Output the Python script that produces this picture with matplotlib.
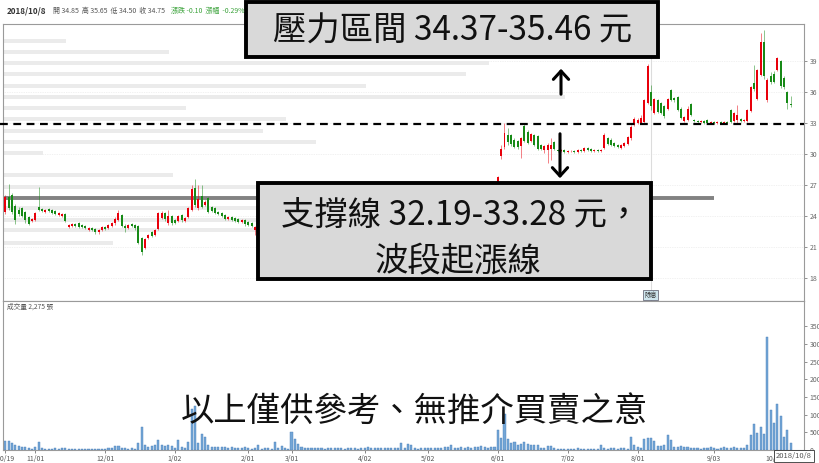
import numpy as np
import matplotlib
matplotlib.use("Agg")
import matplotlib.pyplot as plt
from matplotlib.patches import Rectangle

plt.rcParams['font.family'] = ['Noto Sans CJK TC', 'DejaVu Sans']

# ---- daily candles 2017/10/19 ~ 2018/10/8 (one entry per trading day) ----
OPEN = [
    24.4, 25.8, 26.0, 25.0, 24.6, 24.8, 24.4, 23.9, 23.5, 23.6,
    24.9, 24.7, 24.4, 24.7, 24.6, 24.5, 24.1, 24.0, 24.2, 22.9,
    23.0, 23.2, 23.3, 23.1, 23.0, 22.6, 22.8, 22.7, 22.4, 22.6,
    22.9, 22.8, 23.0, 23.3, 23.6, 24.1, 23.0, 22.8, 23.2, 23.1,
    23.0, 21.9, 20.9, 21.9, 22.4, 22.2, 22.7, 23.8, 24.3, 23.3,
    24.0, 23.6, 23.5, 24.1, 23.5, 23.9, 24.6, 26.7, 24.8, 25.9,
    25.1, 25.7, 24.9, 24.8, 24.4, 24.3, 24.1, 23.7, 23.9, 23.8,
    23.7, 23.4, 23.6, 23.4, 23.3, 22.6, 22.3, 22.5, 22.6, 22.9,
    23.2, 22.8, 22.5, 22.9, 23.4, 23.1, 23.6, 24.0, 23.7, 24.2,
    24.5, 24.1, 23.8, 24.3, 24.6, 24.4, 24.0, 23.7, 23.9, 24.3,
    24.8, 25.1, 24.7, 24.5, 24.9, 25.3, 25.0, 24.6, 24.8, 25.2,
    25.5, 25.1, 24.9, 25.3, 25.6, 25.4, 25.0, 24.8, 25.1, 25.4,
    25.2, 24.9, 25.2, 25.5, 25.8, 25.5, 25.3, 25.0, 25.3, 25.6,
    25.9, 25.6, 25.4, 25.7, 26.0, 25.8, 25.5, 25.3, 25.6, 25.9,
    26.2, 25.9, 25.7, 26.0, 26.3, 26.1, 25.9, 26.2, 26.6, 29.8,
    30.7, 31.8, 31.8, 31.4, 31.3, 30.8, 32.7, 32.1, 31.3, 31.8,
    31.7, 30.9, 30.4, 30.4, 30.5, 31.2, 30.4, 30.3, 30.4, 30.2,
    30.25, 30.3, 30.2, 30.4, 30.3, 30.6, 30.5, 30.3, 30.4, 30.3,
    30.6, 31.5, 31.4, 31.1, 30.9, 30.6, 30.8, 31.0, 31.5, 32.8,
    33.0, 33.0, 33.1, 34.9, 36.0, 34.0, 35.2, 34.9, 34.6, 34.4,
    36.2, 35.4, 35.5, 34.4, 33.2, 33.3, 34.8, 33.3, 33.2, 33.1,
    33.2, 33.3, 33.0, 33.1, 33.0, 33.1, 33.0, 33.1, 34.3, 33.2,
    33.3, 33.4, 33.2, 33.2, 34.2, 36.9, 35.3, 37.6, 40.8, 35.2,
    37.5, 37.7, 38.1, 39.0, 37.4, 36.0, 34.85,
]
CLOSE = [
    25.8, 24.8, 24.4, 23.6, 24.2, 24.0, 23.6, 23.2, 23.7, 24.3,
    24.6, 24.5, 24.6, 24.5, 24.3, 24.2, 24.3, 24.2, 23.5, 23.1,
    23.2, 23.0, 22.9, 22.9, 22.8, 22.8, 22.6, 22.4, 22.6, 22.9,
    22.7, 23.1, 23.3, 23.7, 24.3, 23.0, 22.8, 23.1, 23.0, 22.8,
    21.4, 20.5, 21.8, 22.2, 22.1, 22.6, 24.3, 24.3, 23.7, 24.0,
    23.3, 23.3, 24.0, 23.6, 23.8, 24.8, 26.6, 25.1, 25.6, 24.9,
    25.4, 24.4, 24.5, 24.3, 24.2, 24.0, 23.7, 23.9, 23.6, 23.5,
    23.4, 23.6, 23.2, 23.1, 23.0, 22.9, 22.5, 22.6, 22.9, 23.2,
    22.8, 22.5, 22.9, 23.4, 23.1, 23.6, 24.0, 23.7, 24.2, 24.5,
    24.1, 23.8, 24.3, 24.6, 24.4, 24.0, 23.7, 23.9, 24.3, 24.8,
    25.1, 24.7, 24.5, 24.9, 25.3, 25.0, 24.6, 24.8, 25.2, 25.5,
    25.1, 24.9, 25.3, 25.6, 25.4, 25.0, 24.8, 25.1, 25.4, 25.2,
    24.9, 25.2, 25.5, 25.8, 25.5, 25.3, 25.0, 25.3, 25.6, 25.9,
    25.6, 25.4, 25.7, 26.0, 25.8, 25.5, 25.3, 25.6, 25.9, 26.2,
    25.9, 25.7, 26.0, 26.3, 26.1, 25.9, 26.2, 26.5, 27.8, 30.5,
    32.0, 31.2, 31.0, 30.7, 30.7, 31.5, 31.3, 31.1, 31.9, 30.9,
    30.5, 30.5, 30.8, 30.9, 30.9, 30.5, 30.3, 30.4, 30.2, 30.3,
    30.3, 30.2, 30.4, 30.3, 30.6, 30.4, 30.3, 30.4, 30.3, 30.4,
    31.8, 31.0, 30.9, 30.8, 30.7, 30.9, 31.1, 31.6, 32.6, 33.4,
    33.3, 33.5, 35.2, 38.5, 34.6, 35.3, 34.1, 34.0, 33.7, 35.3,
    35.2, 35.2, 34.3, 33.5, 33.6, 34.4, 33.8, 33.2, 33.1, 33.2,
    33.0, 33.0, 33.1, 33.0, 33.1, 33.0, 33.1, 33.0, 33.1, 34.0,
    33.8, 33.2, 33.3, 34.3, 36.5, 36.3, 38.1, 40.8, 37.5, 37.2,
    37.0, 37.0, 39.3, 36.6, 36.5, 34.9, 34.75,
]
HIGH = [
    26.0, 27.1, 26.2, 25.2, 24.9, 24.9, 24.5, 24.0, 23.8, 24.4,
    26.8, 24.8, 24.7, 24.8, 24.7, 24.6, 24.4, 24.3, 24.3, 23.2,
    23.3, 23.3, 23.4, 23.2, 23.1, 22.9, 22.9, 22.8, 22.7, 23.0,
    23.0, 23.2, 23.4, 23.9, 24.6, 24.2, 23.2, 23.2, 23.3, 23.2,
    23.1, 22.0, 21.9, 22.3, 22.5, 22.7, 24.4, 24.5, 24.4, 24.6,
    24.1, 23.7, 24.1, 24.2, 23.9, 24.9, 27.0, 27.6, 27.0, 27.0,
    25.5, 25.8, 25.0, 24.9, 24.5, 24.4, 24.2, 24.0, 24.0, 23.9,
    23.8, 23.7, 23.7, 23.5, 23.4, 23.0, 22.7, 22.8, 23.1, 23.4,
    23.4, 23.0, 23.1, 23.6, 23.6, 23.8, 24.2, 24.2, 24.4, 24.7,
    24.7, 24.3, 24.5, 24.8, 24.8, 24.6, 24.2, 24.1, 24.5, 25.0,
    25.3, 25.3, 24.9, 25.1, 25.5, 25.5, 25.2, 25.0, 25.4, 25.7,
    25.7, 25.3, 25.5, 25.8, 25.8, 25.6, 25.2, 25.3, 25.6, 25.6,
    25.4, 25.4, 25.7, 26.0, 26.0, 25.7, 25.5, 25.5, 25.8, 26.1,
    26.1, 25.8, 25.9, 26.2, 26.2, 26.0, 25.7, 25.8, 26.1, 26.4,
    26.4, 26.1, 26.2, 26.5, 26.5, 26.3, 26.4, 26.7, 27.9, 30.9,
    33.0, 32.5, 31.9, 31.5, 31.4, 31.6, 33.0, 32.3, 32.0, 31.9,
    31.8, 31.0, 30.9, 31.1, 31.5, 31.3, 30.5, 30.5, 30.5, 30.4,
    30.4, 30.4, 30.5, 30.5, 30.7, 30.7, 30.6, 30.5, 30.5, 30.5,
    32.0, 31.6, 31.5, 31.2, 31.0, 31.0, 31.2, 31.7, 32.8, 33.6,
    33.5, 33.8, 35.3, 38.7, 36.7, 35.4, 35.3, 35.0, 34.7, 35.4,
    36.3, 35.5, 35.6, 34.5, 33.7, 34.6, 34.9, 33.4, 33.3, 33.3,
    33.3, 33.4, 33.2, 33.2, 33.2, 33.2, 33.2, 33.2, 34.4, 34.1,
    34.7, 33.5, 33.4, 34.4, 36.6, 38.6, 38.2, 41.7, 42.0, 37.4,
    37.9, 38.0, 39.4, 39.1, 37.5, 36.1, 35.65,
]
LOW = [
    24.2, 24.6, 24.2, 23.2, 24.0, 23.9, 23.3, 23.1, 23.4, 23.5,
    24.5, 24.4, 24.3, 24.4, 24.2, 24.1, 24.0, 23.9, 23.4, 22.8,
    22.9, 22.9, 22.8, 22.8, 22.7, 22.5, 22.5, 22.3, 22.3, 22.5,
    22.6, 22.7, 22.9, 23.1, 23.5, 22.9, 22.4, 22.7, 22.9, 22.6,
    21.3, 20.2, 20.8, 21.8, 22.0, 22.1, 22.6, 23.7, 23.5, 23.1,
    23.1, 23.2, 23.4, 23.4, 23.4, 23.8, 24.5, 24.9, 24.6, 24.8,
    25.0, 24.3, 24.4, 24.2, 24.1, 23.9, 23.6, 23.6, 23.5, 23.4,
    23.3, 23.3, 23.0, 23.0, 22.9, 22.2, 22.2, 22.3, 22.4, 22.7,
    22.6, 22.3, 22.3, 22.7, 22.9, 22.9, 23.4, 23.5, 23.5, 24.0,
    23.9, 23.6, 23.6, 24.1, 24.2, 23.8, 23.5, 23.5, 23.7, 24.1,
    24.6, 24.5, 24.3, 24.3, 24.7, 24.8, 24.4, 24.4, 24.6, 25.0,
    24.9, 24.7, 24.7, 25.1, 25.2, 24.8, 24.6, 24.6, 24.9, 25.0,
    24.7, 24.7, 25.0, 25.3, 25.3, 25.1, 24.8, 24.8, 25.1, 25.4,
    25.4, 25.2, 25.2, 25.5, 25.6, 25.3, 25.1, 25.1, 25.4, 25.7,
    25.7, 25.5, 25.5, 25.8, 25.9, 25.7, 25.7, 26.0, 26.5, 29.5,
    30.5, 30.9, 30.8, 30.6, 30.5, 29.6, 31.2, 31.0, 31.2, 30.8,
    30.4, 30.4, 30.1, 29.1, 29.4, 30.4, 30.2, 30.2, 30.1, 30.1,
    30.2, 30.1, 30.1, 30.2, 30.2, 30.3, 30.2, 30.2, 30.2, 30.2,
    30.5, 30.9, 30.8, 30.7, 30.6, 30.5, 30.7, 30.9, 31.4, 32.7,
    32.9, 32.9, 33.0, 34.8, 34.3, 33.9, 34.0, 33.9, 33.5, 34.3,
    35.1, 35.0, 34.2, 33.4, 33.1, 33.2, 33.7, 33.1, 33.0, 33.0,
    32.9, 32.9, 32.9, 32.9, 32.9, 32.9, 32.9, 32.9, 33.0, 33.1,
    33.0, 33.1, 33.1, 33.1, 34.1, 36.1, 35.2, 37.5, 37.3, 35.0,
    36.8, 36.9, 38.0, 36.4, 36.3, 34.4, 34.50,
]
VOLUME = [
    250, 250, 190, 150, 100, 80, 80, 50, 40, 80,
    230, 50, 40, 40, 40, 50, 40, 50, 60, 40,
    40, 30, 30, 40, 30, 30, 30, 40, 30, 40,
    40, 60, 60, 100, 110, 60, 60, 40, 60, 40,
    200, 650, 130, 90, 100, 130, 280, 130, 100, 130,
    110, 60, 270, 80, 60, 230, 1150, 1250, 200, 460,
    380, 140, 90, 80, 80, 80, 80, 70, 90, 70,
    60, 60, 80, 50, 40, 60, 130, 40, 60, 60,
    40, 240, 70, 110, 60, 40, 510, 310, 180, 90,
    70, 70, 60, 60, 50, 60, 40, 60, 70, 50,
    50, 60, 40, 50, 60, 70, 40, 60, 70, 80,
    60, 70, 60, 50, 60, 50, 70, 60, 60, 200,
    60, 170, 140, 50, 40, 50, 60, 50, 60, 50,
    60, 60, 80, 80, 130, 60, 70, 90, 60, 80,
    70, 90, 80, 100, 80, 70, 90, 80,
    560, 330, 1020, 320, 200, 220, 150, 170, 230, 160,
    150, 140, 150, 60, 50, 100, 110, 50, 40, 40,
    30, 40, 30, 40, 50, 30, 40, 40, 30, 40,
    40, 130, 50, 40, 60, 50, 40, 50, 60, 40,
    370, 140, 80, 50, 320, 330, 340, 250, 100, 100,
    130, 410, 290, 90, 80, 100, 90, 80, 60, 50,
    50, 40, 50, 60, 80, 50, 40, 60, 90, 70,
    60, 90, 50, 60, 60, 130, 430, 730, 480, 660,
    460, 3190, 1130, 750, 1300, 960, 380, 570, 210,
]

# volume-by-price bars (price level, length in trading days)
VP_LEVELS = [40.94, 39.87, 38.81, 37.74, 36.58, 35.52, 34.45, 33.39, 32.23,
             31.16, 30.10, 27.97, 26.81, 25.74, 24.77, 23.61, 22.65, 21.39]
VP_LENGTHS = [19, 50, 146, 139, 109, 169, 55, 85, 78,
              94, 12, 51, 130, 200, 160, 120, 90, 33]

PRICE_TICKS = [18, 21, 24, 27, 30, 33, 36, 39]
VOL_TICKS = [0, 500, 1000, 1500, 2000, 2500, 3000, 3500]
DATE_POS = [0, 9, 30, 51, 73, 86, 108, 127, 148, 169, 190, 213, 231]
DATE_LBL = ["10/19\n2017", "11/01", "12/01", "1/02\n2018", "2/01", "3/01", "4/02",
            "5/02", "6/01", "7/02", "8/01", "9/03", "10/01"]

SUPPORT_LINE = 32.9      # 支撐線 (dashed)
COST_LINE = 25.74        # thick grey line
COST_LINE_END = 213
EXDIV_DAY = 194

UP, DOWN = "#e8000b", "#178a17"

W, H = 820, 463


def frac(x0, y0, x1, y1):
    return [x0 / W, 1 - y1 / H, (x1 - x0) / W, (y1 - y0) / H]


fig = plt.figure(figsize=(8.2, 4.63), dpi=100)
ax = fig.add_axes(frac(3, 24, 804, 301))
axv = fig.add_axes(frac(3, 301, 804, 450))

idx = np.arange(len(CLOSE))
o, c = np.array(OPEN), np.array(CLOSE)
hi, lo = np.array(HIGH), np.array(LOW)
up = c >= o
cols = np.where(up, UP, DOWN)

# ---- price panel ----
ax.set_xlim(-0.7, 240.0)
ax.set_ylim(15.77, 42.58)
for p in PRICE_TICKS:
    ax.axhline(p, color="#e4e4e4", lw=0.5, ls=(0, (1, 1.5)), zorder=0)
ax.barh(VP_LEVELS, VP_LENGTHS, height=0.4, left=-0.7, color="#ebebeb", zorder=1)
ax.axvline(EXDIV_DAY, color="#dcdcdc", lw=0.8, zorder=1)
ax.plot([-0.7, COST_LINE_END], [COST_LINE, COST_LINE], color="#828282", lw=2.8,
        solid_capstyle="butt", zorder=2)

ax.vlines(idx, np.minimum(lo, np.minimum(o, c)), np.maximum(hi, np.maximum(o, c)),
          colors=cols, lw=0.7, alpha=0.5, zorder=3)
body_h = np.maximum(np.abs(c - o), 0.06)
ax.bar(idx, body_h, bottom=np.minimum(o, c), width=0.6, color=cols, lw=0, zorder=4)

ax.axhline(SUPPORT_LINE, xmin=-0.004, color="black", lw=1.6, dashes=(3.5, 2.5),
           zorder=5, clip_on=False)

ax.yaxis.tick_right()
ax.set_yticks(PRICE_TICKS)
ax.set_xticks([])
ax.tick_params(axis="y", labelsize=5, colors="#666", length=2.5, width=0.5, pad=1.5)
for s in ax.spines.values():
    s.set_color("#9a9a9a")
    s.set_linewidth(0.8)

# ---- volume panel ----
axv.set_xlim(-0.7, 240.0)
axv.set_ylim(0, 4210)
axv.bar(idx, VOLUME, width=0.62, color="#74a6d6", edgecolor="#4a80bb", lw=0.3)
axv.yaxis.tick_right()
axv.set_yticks(VOL_TICKS)
axv.set_xticks(DATE_POS)
axv.set_xticklabels(DATE_LBL, linespacing=1.3)
axv.tick_params(axis="y", labelsize=5, colors="#666", length=2.5, width=0.5, pad=1.5)
axv.tick_params(axis="x", labelsize=5, colors="#555", length=2, width=0.5, pad=1.5)
for s in axv.spines.values():
    s.set_color("#9a9a9a")
    s.set_linewidth(0.8)

# ---- overlay (pixel coordinates) ----
ov = fig.add_axes([0, 0, 1, 1], zorder=10)
ov.set_xlim(0, W)
ov.set_ylim(H, 0)
ov.axis("off")
ov.patch.set_alpha(0)

ov.text(7, 11, "2018/10/8", fontsize=5.8, fontweight="bold", color="#333", va="center")
ov.text(53, 11, "開 34.85  高 35.65  低 34.50  收 34.75", fontsize=5, color="#555", va="center")
ov.text(171, 11, "漲跌 -0.10  漲幅  -0.29%", fontsize=5, color="#3ca33c", va="center")
ov.text(7, 307, "成交量 2,275 張", fontsize=4.8, color="#555", va="center")

ov.text(651, 295, "除息", fontsize=4.5, color="#333", ha="center", va="center",
        bbox=dict(boxstyle="square,pad=0.2", fc="#cfe6ee", ec="#556", lw=0.5))

ov.add_patch(Rectangle((246, 2), 412, 55, fc="#d9d9d9", ec="black", lw=2.8))
ov.text(453, 31, "壓力區間 34.37-35.46 元", fontsize=24, color="#111",
        ha="center", va="center")

ov.add_patch(Rectangle((258, 183), 393, 96, fc="#d9d9d9", ec="black", lw=2.8))
ov.text(461, 215, "支撐線 32.19-33.28 元，", fontsize=24, color="#111",
        ha="center", va="center")
ov.text(458, 262, "波段起漲線", fontsize=24, color="#111", ha="center", va="center")

arrow = dict(arrowstyle="->,head_length=0.6,head_width=0.55", lw=2.2, color="black")
ov.annotate("", xy=(561, 66), xytext=(561, 97), arrowprops=arrow)
ov.annotate("", xy=(560, 181), xytext=(560, 131), arrowprops=arrow)

ov.text(414, 411, "以上僅供參考、無推介買賣之意", fontsize=24, color="#111",
        ha="center", va="center")

ov.text(794, 456, "2018/10/8", fontsize=5.5, color="#555", ha="center", va="center",
        bbox=dict(boxstyle="square,pad=0.3", fc="white", ec="#333", lw=0.6))

fig.savefig("out.png", dpi=100)
